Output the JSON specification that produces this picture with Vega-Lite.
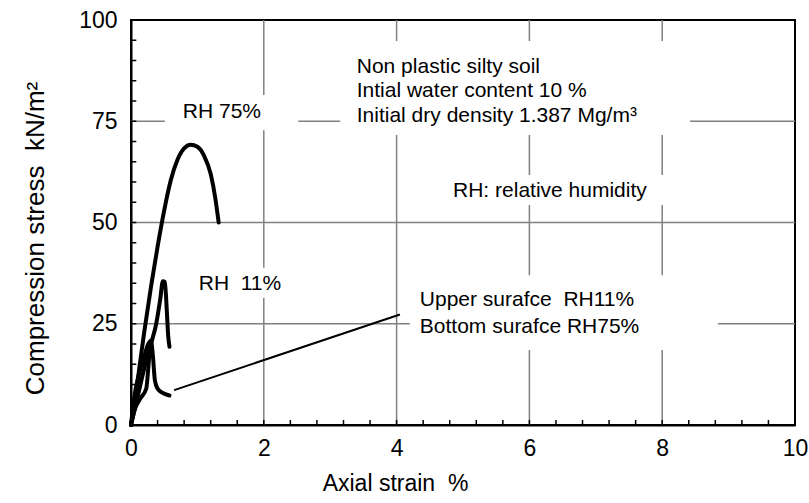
{
  "$schema": "https://vega.github.io/schema/vega-lite/v6.json",
  "width": 664,
  "height": 405,
  "autosize": "none",
  "padding": {"left": 131, "top": 20, "right": 14, "bottom": 78},
  "background": "white",
  "config": {
    "view": {"stroke": "#000", "strokeWidth": 2},
    "font": "Liberation Sans",
    "axis": {"grid": false, "zindex": 1, "domainColor": "#000", "domainWidth": 2, "tickColor": "#000", "tickWidth": 1.5, "labelFont": "Liberation Sans", "titleFont": "Liberation Sans", "labelFontSize": 23, "titleFontSize": 23, "labelColor": "#000", "titleColor": "#000", "titleFontWeight": "normal", "labelOverlap": false, "labelBound": false, "labelFlush": false}
  },
  "datasets": {
    "curves": [
      {"curve": "A", "strain": 0.0, "stress": 0},
      {"curve": "A", "strain": 0.05, "stress": 5},
      {"curve": "A", "strain": 0.1, "stress": 11},
      {"curve": "A", "strain": 0.2, "stress": 23},
      {"curve": "A", "strain": 0.3, "stress": 34},
      {"curve": "A", "strain": 0.4, "stress": 44},
      {"curve": "A", "strain": 0.5, "stress": 53},
      {"curve": "A", "strain": 0.6, "stress": 60.5},
      {"curve": "A", "strain": 0.7, "stress": 65.5},
      {"curve": "A", "strain": 0.8, "stress": 68.3},
      {"curve": "A", "strain": 0.9, "stress": 69.2},
      {"curve": "A", "strain": 1.0, "stress": 68.7},
      {"curve": "A", "strain": 1.1, "stress": 66.5},
      {"curve": "A", "strain": 1.2, "stress": 62},
      {"curve": "A", "strain": 1.27, "stress": 56},
      {"curve": "A", "strain": 1.32, "stress": 50},
      {"curve": "B", "strain": 0.0, "stress": 0},
      {"curve": "B", "strain": 0.1, "stress": 7},
      {"curve": "B", "strain": 0.2, "stress": 14},
      {"curve": "B", "strain": 0.3, "stress": 20},
      {"curve": "B", "strain": 0.38, "stress": 25},
      {"curve": "B", "strain": 0.44, "stress": 31},
      {"curve": "B", "strain": 0.48, "stress": 35.5},
      {"curve": "B", "strain": 0.51, "stress": 35.3},
      {"curve": "B", "strain": 0.54, "stress": 28},
      {"curve": "B", "strain": 0.56, "stress": 22},
      {"curve": "B", "strain": 0.58, "stress": 19.3},
      {"curve": "C", "strain": 0.0, "stress": 0},
      {"curve": "C", "strain": 0.05, "stress": 7},
      {"curve": "C", "strain": 0.12, "stress": 12.5},
      {"curve": "C", "strain": 0.2, "stress": 17},
      {"curve": "C", "strain": 0.26, "stress": 20},
      {"curve": "C", "strain": 0.3, "stress": 20.8},
      {"curve": "C", "strain": 0.33, "stress": 17},
      {"curve": "C", "strain": 0.36, "stress": 11},
      {"curve": "C", "strain": 0.4, "stress": 9},
      {"curve": "C", "strain": 0.47, "stress": 8},
      {"curve": "C", "strain": 0.58, "stress": 7.3},
      {"curve": "D", "strain": 0.0, "stress": 0},
      {"curve": "D", "strain": 0.05, "stress": 3.5},
      {"curve": "D", "strain": 0.14, "stress": 6.5},
      {"curve": "D", "strain": 0.23, "stress": 9},
      {"curve": "D", "strain": 0.26, "stress": 14},
      {"curve": "D", "strain": 0.29, "stress": 20.5}
    ],
    "pointer": [
      {"strain": 0.65, "stress": 8.6},
      {"strain": 4.05, "stress": 27.3}
    ],
    "vgrid": [{"v": 2}, {"v": 4}, {"v": 6}, {"v": 8}],
    "hgrid": [{"v": 25}, {"v": 50}, {"v": 75}],
    "xticks": [{"v": 0.4}, {"v": 0.8}, {"v": 1.2}, {"v": 1.6}, {"v": 2}, {"v": 2.4}, {"v": 2.8}, {"v": 3.2}, {"v": 3.6}, {"v": 4}, {"v": 4.4}, {"v": 4.8}, {"v": 5.2}, {"v": 5.6}, {"v": 6}, {"v": 6.4}, {"v": 6.8}, {"v": 7.2}, {"v": 7.6}, {"v": 8}, {"v": 8.4}, {"v": 8.8}, {"v": 9.2}, {"v": 9.6}],
    "yticks": [{"v": 5}, {"v": 10}, {"v": 15}, {"v": 20}, {"v": 25}, {"v": 30}, {"v": 35}, {"v": 40}, {"v": 45}, {"v": 50}, {"v": 55}, {"v": 60}, {"v": 65}, {"v": 70}, {"v": 75}, {"v": 80}, {"v": 85}, {"v": 90}, {"v": 95}],
    "boxes": [
      {"x1": 0.51, "x2": 2.52, "y1": 72.8, "y2": 81.5},
      {"x1": 3.15, "x2": 8.42, "y1": 71.6, "y2": 94.8},
      {"x1": 4.73, "x2": 8.27, "y1": 54.3, "y2": 61.7},
      {"x1": 0.89, "x2": 2.47, "y1": 31.4, "y2": 38.8},
      {"x1": 4.2, "x2": 8.84, "y1": 18.5, "y2": 37}
    ],
    "labels": [
      {"x": 0.78, "y": 75.7, "t": ["RH 75%"]},
      {"x": 3.4, "y": 87.0, "t": ["Non plastic silty soil", "Intial water content 10 %", "Initial dry density 1.387 Mg/m³"]},
      {"x": 4.85, "y": 56.3, "t": ["RH: relative humidity"]},
      {"x": 1.02, "y": 33.3, "t": ["RH\u00a0\u00a011%"]},
      {"x": 4.35, "y": 29.4, "t": ["Upper surafce\u00a0\u00a0RH11%"]},
      {"x": 4.35, "y": 22.6, "t": ["Bottom surafce RH75%"]}
    ]
  },
  "layer": [
    {
      "data": {"name": "vgrid"},
      "mark": {"type": "rule", "color": "#808080", "strokeWidth": 1.5},
      "encoding": {"x": {"field": "v", "type": "quantitative", "scale": {"domain": [0, 10], "nice": false}}}
    },
    {
      "data": {"name": "hgrid"},
      "mark": {"type": "rule", "color": "#808080", "strokeWidth": 1.5},
      "encoding": {"y": {"field": "v", "type": "quantitative", "scale": {"domain": [0, 100], "nice": false}}}
    },
    {
      "data": {"name": "boxes"},
      "mark": {"type": "rect", "color": "white"},
      "encoding": {
        "x": {"field": "x1", "type": "quantitative"},
        "x2": {"field": "x2"},
        "y": {"field": "y1", "type": "quantitative"},
        "y2": {"field": "y2"}
      }
    },
    {
      "data": {"name": "xticks"},
      "mark": {"type": "rule", "color": "#000", "strokeWidth": 1.5},
      "encoding": {
        "x": {"field": "v", "type": "quantitative"},
        "y": {"datum": 0, "type": "quantitative"},
        "y2": {"datum": 1.25}
      }
    },
    {
      "data": {"name": "yticks"},
      "mark": {"type": "rule", "color": "#000", "strokeWidth": 1.5},
      "encoding": {
        "y": {"field": "v", "type": "quantitative"},
        "x": {"datum": 0, "type": "quantitative"},
        "x2": {"datum": 0.08}
      }
    },
    {
      "data": {"name": "curves"},
      "mark": {"type": "line", "color": "#000", "strokeWidth": 4, "interpolate": "monotone", "strokeCap": "round", "strokeJoin": "round"},
      "encoding": {
        "x": {"field": "strain", "type": "quantitative", "scale": {"domain": [0, 10], "nice": false},
          "axis": {"orient": "bottom", "title": "Axial strain\u00a0\u00a0%", "titleX": 264, "titleAnchor": "middle", "values": [0, 2, 4, 6, 8, 10], "format": "d",
            "ticks": false, "labelPadding": 12, "titlePadding": 12}},
        "y": {"field": "stress", "type": "quantitative", "scale": {"domain": [0, 100], "nice": false},
          "axis": {"orient": "left", "title": "Compression stress\u00a0\u00a0kN/m²", "titleFontSize": 26, "titleY": 218, "values": [0, 25, 50, 75, 100], "format": "d",
            "ticks": false, "labelPadding": 14, "titlePadding": 30}},
        "detail": {"field": "curve"}
      }
    },
    {
      "data": {"name": "pointer"},
      "mark": {"type": "line", "color": "#000", "strokeWidth": 2},
      "encoding": {
        "x": {"field": "strain", "type": "quantitative"},
        "y": {"field": "stress", "type": "quantitative"}
      }
    },
    {
      "data": {"name": "labels"},
      "mark": {"type": "text", "align": "left", "baseline": "alphabetic", "fontSize": 21, "lineHeight": 24.5, "font": "Liberation Sans", "color": "#000"},
      "encoding": {
        "x": {"field": "x", "type": "quantitative"},
        "y": {"field": "y", "type": "quantitative"},
        "text": {"field": "t"}
      }
    }
  ]
}
